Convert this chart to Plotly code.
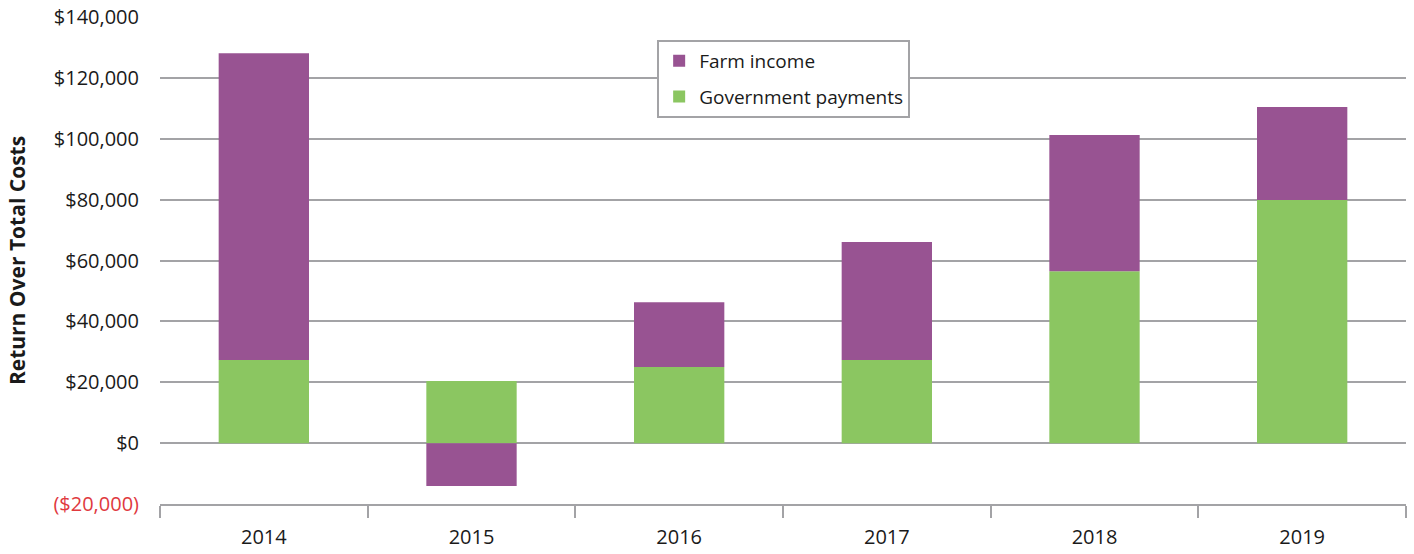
import plotly.graph_objects as go

years = ["2014", "2015", "2016", "2017", "2018", "2019"]
gov_payments = [27300, 20400, 25000, 27300, 56500, 79900]
farm_income = [100800, -14100, 21300, 38800, 44700, 30500]

tick_vals = [-20000, 0, 20000, 40000, 60000, 80000, 100000, 120000, 140000]
tick_text = ["<span style='color:#e0393e'>($20,000)</span>", "$0", "$20,000", "$40,000",
             "$60,000", "$80,000", "$100,000", "$120,000", "$140,000"]

FONT = "Open Sans"
GRID = "#a3a3a6"

fig = go.Figure()
fig.add_trace(go.Bar(x=years, y=gov_payments, name="Government payments",
                     legendgroup="gov", legendrank=2,
                     marker=dict(color="#8bc661", line=dict(width=0))))
fig.add_trace(go.Bar(x=years, y=farm_income, name="Farm income",
                     legendgroup="farm", legendrank=1,
                     marker=dict(color="#985392", line=dict(width=0))))

fig.update_layout(
    barmode="relative",
    bargap=0.565,
    width=1414, height=554,
    margin=dict(l=160, r=8, t=17, b=50),
    paper_bgcolor="white", plot_bgcolor="white",
    font=dict(family=FONT, size=19, color="#1a1a1a"),
    showlegend=True,
    legend=dict(x=0.399, y=0.953, xanchor="left", yanchor="top",
                traceorder="grouped", bordercolor="#a3a3a6", borderwidth=2,
                bgcolor="white", font=dict(family=FONT, size=19),
                itemwidth=30, tracegroupgap=8),
    xaxis=dict(type="category", tickson="boundaries", ticks="outside", ticklen=12,
               tickwidth=2, tickcolor=GRID, showline=True, linecolor=GRID, linewidth=2,
               showgrid=False, ticklabelstandoff=14, automargin=False,
               tickfont=dict(family=FONT, size=20)),
    yaxis=dict(range=[-20000, 140000], tickvals=tick_vals, ticktext=tick_text,
               showgrid=True, gridcolor=GRID, gridwidth=2, zeroline=True,
               zerolinecolor=GRID, zerolinewidth=2, ticks="", ticklen=0,
               ticklabelstandoff=20, automargin=False,
               tickfont=dict(family=FONT, size=20),
               title=dict(text="<b>Return Over Total Costs</b>", standoff=22,
                          font=dict(family=FONT, size=21))),
)

fig.write_html("out.html")
